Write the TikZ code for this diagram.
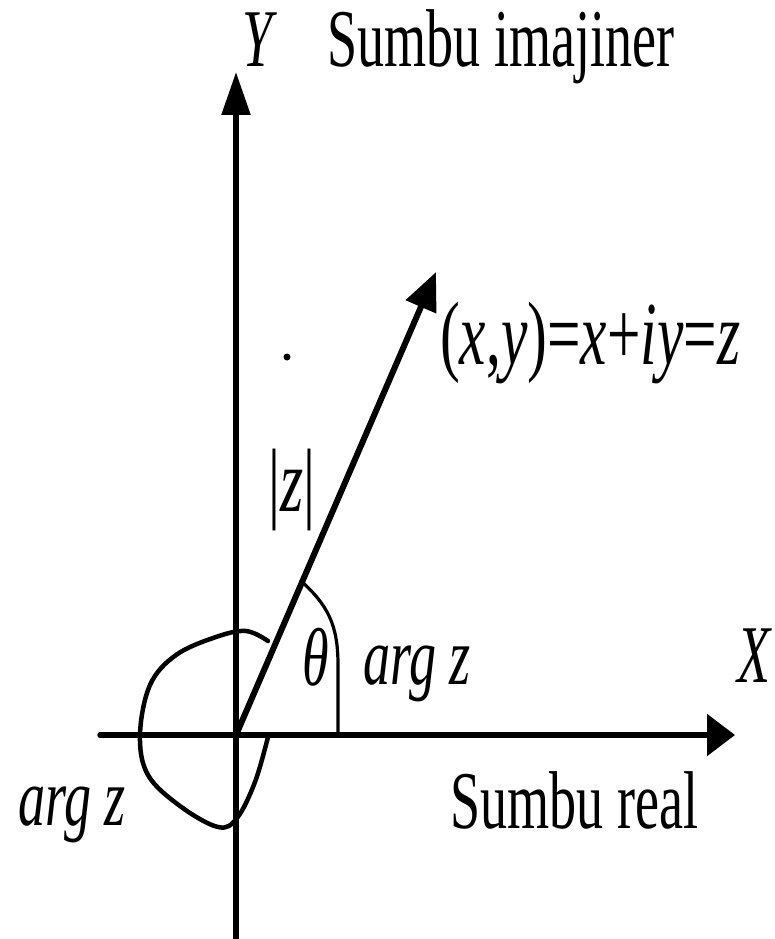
\documentclass[tikz,border=0pt]{standalone}
\usepackage{fontspec}
\setmainfont[FakeStretch=0.66]{Liberation Serif}
\usetikzlibrary{arrows.meta}

\begin{document}
\begin{tikzpicture}[
  x=1pt, y=-1pt,
  axis/.style={line width=5.5pt, line cap=round},
  vec/.style={line width=6pt, -{Triangle[length=38pt,width=32pt]}},
  thetaarc/.style={line width=3.2pt},
  argloop/.style={line width=4.5pt, line cap=round},
  lbl/.style={font=\fontsize{82}{90}\selectfont, inner sep=0pt},
  mth/.style={font=\fontsize{82}{90}\selectfont\itshape, inner sep=0pt},
]
\useasboundingbox (0,0) rectangle (775,939);
\coordinate (o) at (236,735);
\coordinate (ytop) at (236,72);
\coordinate (ybot) at (236,945);
\coordinate (xleft) at (100,735);
\coordinate (xright) at (735,735);
\coordinate (zpt) at (436,272);

% axes
\draw[axis, -{Triangle[length=43pt,width=28pt]}] (ybot) -- (ytop);
\draw[axis, -{Triangle[length=28pt,width=41pt]}] (xleft) -- (xright);
\node[mth, anchor=base west] (ylab) at (242,67) {Y};
\node[lbl, anchor=base west] (imaj) at (327,67) {Sumbu imajiner};
\node[mth, anchor=base west] (xlab) at (737,682) {X};
\node[lbl, anchor=base west] (real) at (450,828) {Sumbu real};

% vector z
\draw[vec] (o) -- (zpt);
\node[lbl, font=\fontsize{90}{96}\selectfont, anchor=base west] (zeq) at (440,364) {(\textit{x},\textit{y})=\textit{x}+\textit{iy}=\textit{z}};
\node[lbl, font=\fontsize{90}{96}\selectfont] (modz) at (292,490) {|\textit{z}|};
\fill (287,357) circle (3.5pt);

% angles
\draw[thetaarc] (300,580) .. controls (328,605) and (338,625) .. (338,665) -- (338,735);
\node[mth, anchor=base west] (theta) at (302,685) {θ};
\node[mth, anchor=base west] (argr) at (363,684) {arg z};
\draw[argloop] plot[smooth, tension=0.6] coordinates {(268,641) (246,631) (216,637) (176,655) (150,685) (140,735) (148,775) (180,806) (218,827) (237,818) (255,782) (268,737)};
\node[mth, anchor=base west] (argl) at (18,825) {arg z};
\end{tikzpicture}
\end{document}
